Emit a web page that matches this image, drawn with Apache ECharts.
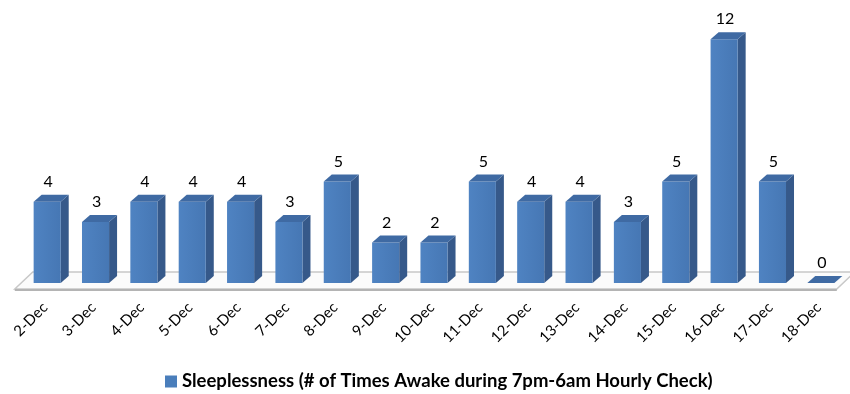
<!DOCTYPE html>
<html>
<head>
<meta charset="utf-8">
<script src="https://cdn.jsdelivr.net/npm/echarts@6/dist/echarts.min.js"></script>
<style>
  html, body { margin: 0; padding: 0; background: #fff; }
  #main { width: 850px; height: 394px; }
</style>
</head>
<body>
<div id="main"></div>
<script>
var days = ['2-Dec', '3-Dec', '4-Dec', '5-Dec', '6-Dec', '7-Dec', '8-Dec', '9-Dec', '10-Dec',
            '11-Dec', '12-Dec', '13-Dec', '14-Dec', '15-Dec', '16-Dec', '17-Dec', '18-Dec'];
var awake = [4, 3, 4, 4, 4, 3, 5, 2, 2, 5, 4, 4, 3, 5, 12, 5, 0];
var seriesName = 'Sleeplessness (# of Times Awake during 7pm-6am Hourly Check)';

var myChart = echarts.init(document.getElementById('main'));

// 3D offset of the bar depth
var DX = 8, DY = 7;

function barItem(params, api) {
    var i = api.value(0), v = api.value(1);
    var top = api.coord([i, v]);
    var base = api.coord([i, 0]);
    var bw = api.size([1, 0])[0] * 0.56;
    var x0 = top[0] - bw / 2, x1 = top[0] + bw / 2;
    var yt = top[1], yb = base[1];
    return {
        type: 'group',
        children: [
            {
                type: 'polygon',
                shape: { points: [[x1, yt], [x1 + DX, yt - DY], [x1 + DX, yb - DY], [x1, yb]] },
                style: { fill: '#36598a' }
            },
            {
                type: 'rect',
                shape: { x: x0, y: yt, width: bw, height: yb - yt },
                style: {
                    fill: new echarts.graphic.LinearGradient(0, 0, 1, 0, [
                        { offset: 0, color: '#4f83c2' },
                        { offset: 1, color: '#4677b4' }
                    ])
                }
            },
            {
                type: 'polygon',
                shape: { points: [[x0, yt], [x0 + DX, yt - DY], [x1 + DX, yt - DY], [x1, yt]] },
                style: { fill: '#3f6aa3' }
            },
            {
                type: 'text',
                style: {
                    text: String(v),
                    x: top[0] + DX / 2 - 3,
                    y: yt - DY - 5,
                    align: 'center',
                    verticalAlign: 'bottom',
                    fill: '#000',
                    font: '16px Lato'
                }
            }
        ]
    };
}

function floorItem(params, api) {
    var first = api.coord([0, 0]);
    var last = api.coord([days.length - 1, 0]);
    var step = api.size([1, 0])[0];
    var fl = first[0] - step * 0.67, fr = last[0] + 16;
    var yf = first[1] + 6, yk = first[1] - 11;
    var sh = 18;
    return {
        type: 'group',
        children: [
            {
                type: 'polygon',
                shape: { points: [[fl, yf], [fl + sh, yk], [fr + sh, yk], [fr, yf]] },
                style: { fill: '#fbfbfb', stroke: '#c8c8c8', lineWidth: 1.5 }
            },
            {
                type: 'line',
                shape: { x1: fl, y1: yf + 1, x2: fr, y2: yf + 1 },
                style: { stroke: '#b4b4b4', lineWidth: 2 }
            }
        ]
    };
}

var option = {
    animation: false,
    grid: { left: 23, right: 5, top: 19, bottom: 111 },
    xAxis: {
        type: 'category',
        data: days,
        axisLine: { show: false },
        axisTick: { show: false },
        axisLabel: {
            interval: 0,
            rotate: 45,
            margin: 20,
            padding: [0, 3, 0, 0],
            fontFamily: 'Lato',
            fontSize: 15,
            color: '#000'
        }
    },
    yAxis: {
        type: 'value',
        min: 0,
        max: 13,
        show: false,
        splitLine: { show: false }
    },
    legend: {
        top: 367,
        left: 160,
        icon: 'rect',
        itemWidth: 12,
        itemHeight: 12,
        itemGap: 5,
        textStyle: { fontFamily: 'Lato', fontWeight: 'bold', fontSize: 18.5, color: '#000' },
        data: [seriesName]
    },
    series: [
        {
            type: 'custom',
            name: 'floor',
            z: 1,
            silent: true,
            renderItem: floorItem,
            data: [[0, 0]]
        },
        {
            type: 'custom',
            name: seriesName,
            z: 2,
            itemStyle: { color: '#4a7ebb' },
            renderItem: barItem,
            data: awake.map(function (v, i) { return [i, v]; })
        }
    ]
};

myChart.setOption(option);
</script>
</body>
</html>
